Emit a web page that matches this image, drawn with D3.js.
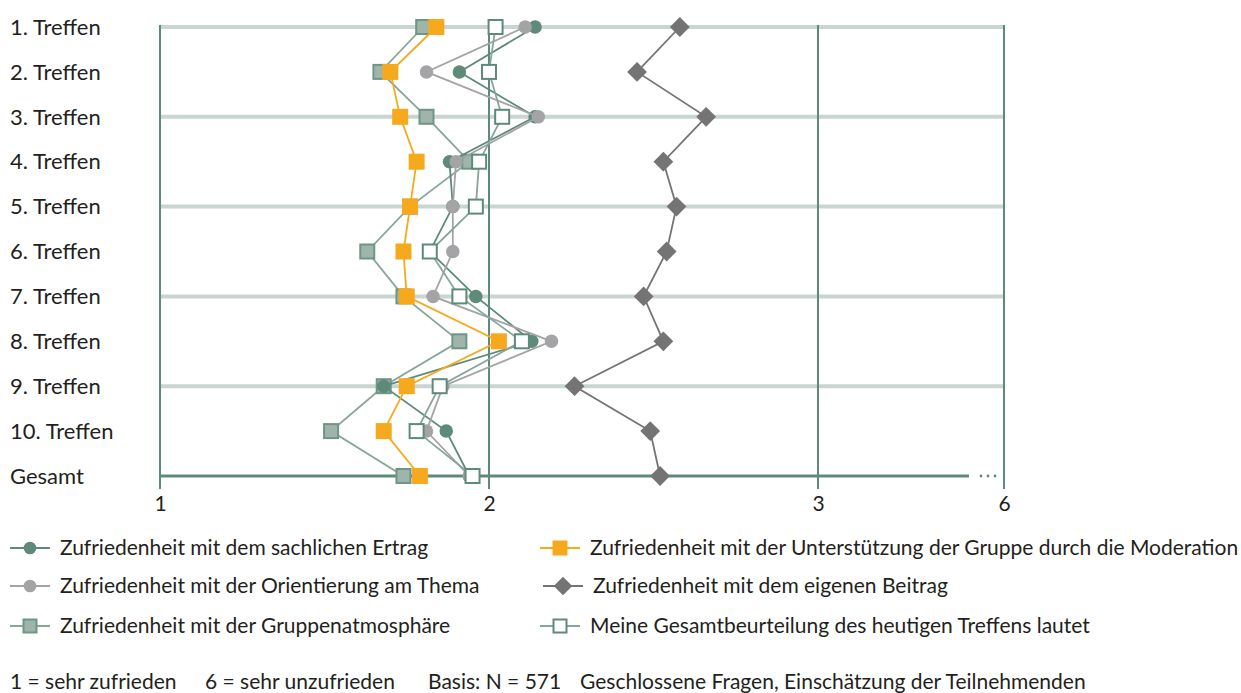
<!DOCTYPE html>
<html lang="de">
<head>
<meta charset="utf-8">
<script src="https://cdn.jsdelivr.net/npm/d3@7"></script>
<style>
  html, body { margin: 0; padding: 0; background: #fff; }
  svg { display: block; font-family: Lato, "Open Sans", sans-serif; }
</style>
</head>
<body>
<svg id="chart" width="1241" height="693"></svg>
<script>
// Treffen (rows) and the overall row
const categories = ["1. Treffen", "2. Treffen", "3. Treffen", "4. Treffen", "5. Treffen",
  "6. Treffen", "7. Treffen", "8. Treffen", "9. Treffen", "10. Treffen", "Gesamt"];

// Mean ratings per row (1 = sehr zufrieden ... 6 = sehr unzufrieden)
const sachlich     = [2.14, 1.91, 2.14, 1.88, 1.89, 1.82, 1.96, 2.13, 1.68, 1.87, 1.94];
const orientierung = [2.11, 1.81, 2.15, 1.90, 1.89, 1.89, 1.83, 2.19, 1.86, 1.81, 1.94];
const gruppe       = [1.80, 1.67, 1.81, 1.94, 1.76, 1.63, 1.74, 1.91, 1.68, 1.52, 1.74];
const moderation   = [1.84, 1.70, 1.73, 1.78, 1.76, 1.74, 1.75, 2.03, 1.75, 1.68, 1.79];
const beitrag      = [2.58, 2.45, 2.66, 2.53, 2.57, 2.54, 2.47, 2.53, 2.26, 2.49, 2.52];
const gesamt       = [2.02, 2.00, 2.04, 1.97, 1.96, 1.82, 1.91, 2.10, 1.85, 1.78, 1.95];

// Axis: 1..3 to scale, then a break up to 6
const tickValues = [1, 2, 3, 6];
const tickLabels = ["1", "2", "3", "6"];

const seriesNames = [
  "Zufriedenheit mit dem sachlichen Ertrag",
  "Zufriedenheit mit der Orientierung am Thema",
  "Zufriedenheit mit der Gruppenatmosphäre",
  "Zufriedenheit mit der Unterstützung der Gruppe durch die Moderation",
  "Zufriedenheit mit dem eigenen Beitrag",
  "Meine Gesamtbeurteilung des heutigen Treffens lautet"
];

const footnotes = ["1 = sehr zufrieden", "6 = sehr unzufrieden", "Basis: N = 571",
  "Geschlossene Fragen, Einschätzung der Teilnehmenden"];

const green = "#5e8a7a";
const series = [
  { name: seriesNames[2], values: gruppe, shape: "square", fill: "#9fb5ac", stroke: "#6f9585", line: "#86a698" },
  { name: seriesNames[0], values: sachlich, shape: "circle", fill: green, stroke: "none", line: green },
  { name: seriesNames[1], values: orientierung, shape: "circle", fill: "#a4a4a6", stroke: "none", line: "#a4a4a6" },
  { name: seriesNames[3], values: moderation, shape: "square", fill: "#f6a91d", stroke: "none", line: "#f6a91d" },
  { name: seriesNames[4], values: beitrag, shape: "diamond", fill: "#747474", stroke: "none", line: "#747474" },
  { name: seriesNames[5], values: gesamt, shape: "square", fill: "#ffffff", stroke: green, line: "#86a698" }
];

const svg = d3.select("#chart");

const x = d3.scaleLinear().domain([1, 3, 6]).range([160, 818, 1004]);
const y = d3.scalePoint().domain(categories).range([27, 476]);

// Light horizontal bands on every other row
svg.append("g").selectAll("line")
  .data(categories.filter((c, i) => i % 2 === 0 && i < categories.length - 1))
  .join("line")
  .attr("x1", x(1)).attr("x2", x(6))
  .attr("y1", d => y(d)).attr("y2", d => y(d))
  .attr("stroke", "#c9d5d0").attr("stroke-width", 4);

// Vertical reference lines at the tick values
svg.append("g").selectAll("line")
  .data(tickValues)
  .join("line")
  .attr("x1", d => x(d)).attr("x2", d => x(d))
  .attr("y1", y(categories[0]) - 2).attr("y2", 489)
  .attr("stroke", green).attr("stroke-width", 2);

// Bottom axis line with break dots before 6
const last = y(categories[categories.length - 1]);
svg.append("line")
  .attr("x1", x(1)).attr("x2", 969)
  .attr("y1", last).attr("y2", last)
  .attr("stroke", green).attr("stroke-width", 3);
svg.append("g").selectAll("circle")
  .data([981, 988, 995])
  .join("circle")
  .attr("cx", d => d).attr("cy", last).attr("r", 1.4)
  .attr("fill", green);

// Tick labels
const axis = d3.axisBottom(x).tickValues(tickValues)
  .tickFormat((d, i) => tickLabels[i]).tickSize(0).tickPadding(0);
const axisG = svg.append("g").attr("transform", `translate(0, ${last + 28})`).call(axis);
axisG.select(".domain").remove();
axisG.selectAll("text")
  .attr("font-family", "Lato, sans-serif")
  .attr("font-size", 21).attr("fill", "#231f20").attr("dy", "0.35em");

// Row labels
svg.append("g").selectAll("text")
  .data(categories)
  .join("text")
  .attr("x", 10).attr("y", d => y(d)).attr("dy", "0.35em")
  .attr("font-size", 22).attr("fill", "#231f20")
  .text(d => d);

// Marker drawing helper
function marker(sel, s, size) {
  if (s.shape === "circle") {
    sel.append("circle").attr("r", size * 0.45)
      .attr("fill", s.fill);
  } else if (s.shape === "diamond") {
    const h = size * 0.66;
    sel.append("path").attr("d", `M0,${-h}L${h},0L0,${h}L${-h},0Z`)
      .attr("fill", s.fill);
  } else {
    const sw = s.stroke === "none" ? 0 : 2;
    const side = s.stroke === "none" ? size + 1 : size - 1;
    sel.append("rect").attr("x", -side / 2).attr("y", -side / 2)
      .attr("width", side).attr("height", side)
      .attr("fill", s.fill).attr("stroke", s.stroke).attr("stroke-width", sw);
  }
}

const line = d3.line().x(d => x(d.v)).y(d => y(d.c));

// Series lines first, then markers in series order
series.forEach(s => {
  const pts = s.values.map((v, i) => ({ v, c: categories[i] }));
  const g = svg.append("g");
  g.append("path").datum(pts)
    .attr("d", line).attr("fill", "none")
    .attr("stroke", s.line).attr("stroke-width", 1.8);
  g.selectAll("g.m").data(pts).join("g").attr("class", "m")
    .attr("transform", d => `translate(${x(d.v)},${y(d.c)})`)
    .each(function () { marker(d3.select(this), s, 15); });
});

// Legend (two columns, three rows)
const legendOrder = [
  [series[1], 10, 548], [series[2], 10, 586], [series[0], 10, 626],
  [series[3], 540, 548], [series[4], 543, 586], [series[5], 540, 626]
];
legendOrder.forEach(([s, lx, ly]) => {
  const g = svg.append("g").attr("transform", `translate(${lx},${ly})`);
  g.append("line").attr("x1", 0).attr("x2", 40).attr("y1", 0).attr("y2", 0)
    .attr("stroke", s.line).attr("stroke-width", 2);
  const m = g.append("g").attr("transform", "translate(20,0)");
  marker(m, s, 14);
  g.append("text").attr("x", 50).attr("y", 0).attr("dy", "0.35em")
    .attr("font-size", 21).attr("fill", "#231f20").text(s.name);
});

// Footnotes
const footX = [10, 205, 428, 580];
svg.append("g").selectAll("text")
  .data(footnotes)
  .join("text")
  .attr("x", (d, i) => footX[i]).attr("y", 682).attr("dy", "0.35em")
  .attr("font-size", 21).attr("fill", "#231f20")
  .text(d => d);
</script>
</body>
</html>
